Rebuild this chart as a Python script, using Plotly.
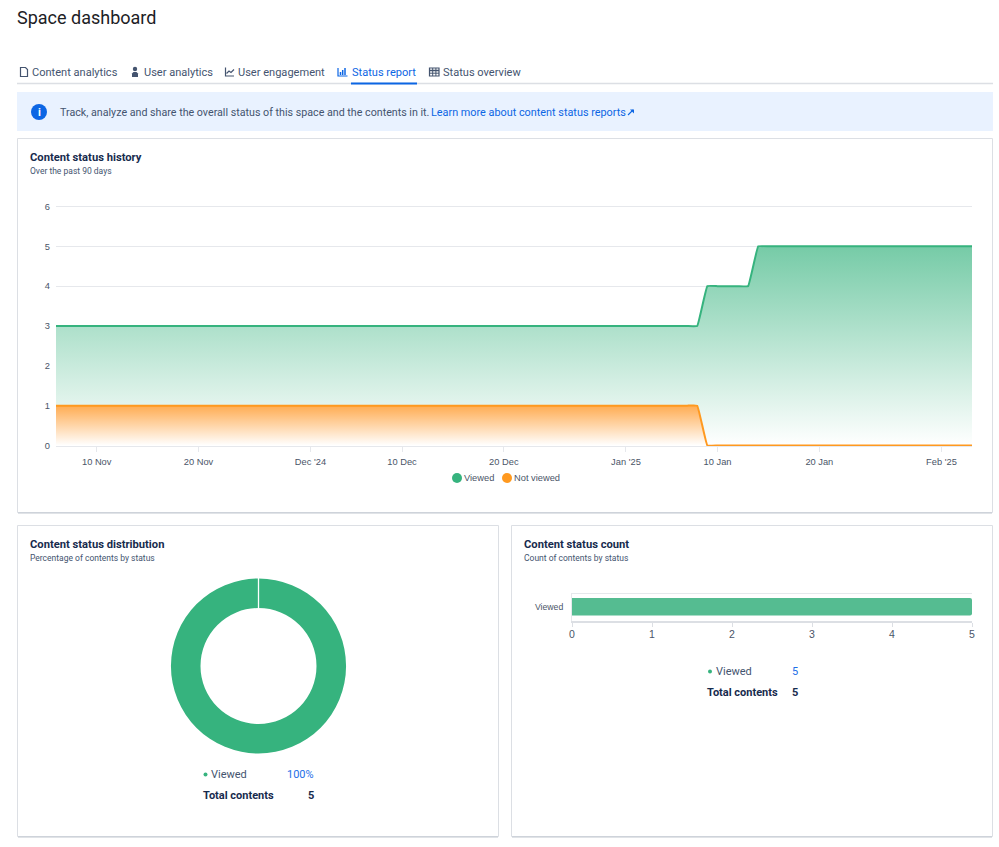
import plotly.graph_objects as go
import pandas as pd

W, H = 999, 847

# ---- data ----
history_dates = pd.date_range("2024-11-06", "2025-02-04", freq="D")
viewed_history = [
    3,3,3,3,3,3,3,3,3,3,3,3,3,3,3,3,3,3,3,3,3,3,3,3,3,3,3,3,3,3,3,3,
    3,3,3,3,3,3,3,3,3,3,3,3,3,3,3,3,3,3,3,3,3,3,3,3,3,3,3,3,3,3,3,3,
    4,4,4,4,4,
    5,5,5,5,5,5,5,5,5,5,5,5,5,5,5,5,5,5,5,5,5,5,
]
not_viewed_history = [
    1,1,1,1,1,1,1,1,1,1,1,1,1,1,1,1,1,1,1,1,1,1,1,1,1,1,1,1,1,1,1,1,
    1,1,1,1,1,1,1,1,1,1,1,1,1,1,1,1,1,1,1,1,1,1,1,1,1,1,1,1,1,1,1,1,
    0,0,0,0,0,
    0,0,0,0,0,0,0,0,0,0,0,0,0,0,0,0,0,0,0,0,0,0,
]
history_tick_dates = ["2024-11-10","2024-11-20","2024-12-01","2024-12-10","2024-12-20",
                      "2025-01-01","2025-01-10","2025-01-20","2025-02-01"]
history_tick_labels = ["10 Nov","20 Nov","Dec '24","10 Dec","20 Dec","Jan '25","10 Jan","20 Jan","Feb '25"]
status_labels = ["Viewed"]
status_counts = [5]

GREEN, ORANGE = "#36B37E", "#FF991F"
UI = "Roboto"
CH = "Liberation Sans"
DARK, MUTED, AXIS = "#172B4D", "#44546F", "#4A5568"
BLUE = "#0C66E4"

def X(p): return p / W
def Y(p): return 1 - p / H

shapes, ann = [], []

def rect(x0, y0, x1, y1, fill="rgba(0,0,0,0)", line=None, lw=1, layer="below"):
    shapes.append(dict(type="rect", xref="paper", yref="paper", x0=X(x0), x1=X(x1), y0=Y(y0), y1=Y(y1),
                       fillcolor=fill, line=dict(color=line or "rgba(0,0,0,0)", width=lw if line else 0), layer=layer))
def hline(x0, x1, y, color, lw=1, layer="below", y2=None):
    shapes.append(dict(type="line", xref="paper", yref="paper", x0=X(x0), x1=X(x1), y0=Y(y), y1=Y(y if y2 is None else y2),
                       line=dict(color=color, width=lw), layer=layer))
def dot(cx, cy, r, color, layer="above"):
    shapes.append(dict(type="circle", xref="paper", yref="paper", x0=X(cx-r), x1=X(cx+r), y0=Y(cy-r), y1=Y(cy+r),
                       fillcolor=color, line=dict(width=0), layer=layer))
def path(pts, color=None, fill=None, lw=1.2, closed=False):
    d = "M" + " L".join(f"{X(a):.5f},{Y(b):.5f}" for a, b in pts) + (" Z" if closed else "")
    shapes.append(dict(type="path", xref="paper", yref="paper", path=d, fillcolor=fill or "rgba(0,0,0,0)",
                       line=dict(color=color or "rgba(0,0,0,0)", width=lw if color else 0), layer="above"))
def text(x, y, s, size=12, color=DARK, anchor="left", bold=False, font=UI):
    ann.append(dict(xref="paper", yref="paper", x=X(x), y=Y(y), text=f"<b>{s}</b>" if bold else s, showarrow=False,
                    xanchor=anchor, yanchor="middle", font=dict(family=font, size=size, color=color), borderpad=0, borderwidth=0))

# page chrome
text(17, 18, "Space dashboard", 18, "#1D2125")
hline(17, 993, 83.5, "#DCDFE4", 1.5)
hline(351, 417, 83.5, BLUE, 2, "above")
for x, s, c in [(32,"Content analytics",MUTED),(144,"User analytics",MUTED),(238,"User engagement",MUTED),
                (351.5,"Status report",BLUE),(443,"Status overview",MUTED)]:
    text(x, 72, s, 11.05, c)
# tab icons
path([(20.5,67.5),(25.5,67.5),(27.5,69.5),(27.5,76.5),(20.5,76.5)], MUTED, closed=True)
dot(135, 69, 2.2, MUTED)
path([(132,77),(132,73.5),(133.5,72),(136.5,72),(138,73.5),(138,77)], fill=MUTED, closed=True)
path([(225.5,67.5),(225.5,76),(234,76)], MUTED)
path([(226.5,73.5),(229,71),(231,72.5),(234,69.5)], MUTED)
path([(338,68),(338,76),(347.5,76)], BLUE)
for bx, by in [(340.5,72),(342.7,70),(345,68)]:
    hline(bx, bx, by, BLUE, 1.5, "above", y2=75)
rect(429.5, 68, 439, 76, fill="rgba(0,0,0,0)", line=MUTED, lw=1.2, layer="above")
hline(429.5, 439, 70.5, MUTED, 1.5, "above")
hline(429.5, 439, 73.2, MUTED, 1, "above")
hline(432.7, 432.7, 68, MUTED, 1, "above", y2=76)
hline(435.9, 435.9, 68, MUTED, 1, "above", y2=76)

# banner
rect(17, 92, 993, 131, fill="#E9F2FF")
dot(39, 112, 8, BLUE)
text(39, 112, "<b>i</b>", 11, "#FFFFFF", "center")
text(60, 112, "Track, analyze and share the overall status of this space and the contents in it.", 10.7, MUTED)
text(431, 112, "Learn more about content status reports", 10.85, BLUE)
path([(628,115),(633,110)], BLUE, lw=1.1)
path([(630,109.5),(634,109.5),(634,113.5)], fill=BLUE, closed=True)

# cards
rect(17.5, 138.5, 992.5, 512.5, "#FFFFFF", "#DCDFE4")
rect(17.5, 525.5, 498.5, 836.5, "#FFFFFF", "#DCDFE4")
rect(511.5, 525.5, 992.5, 836.5, "#FFFFFF", "#DCDFE4")
hline(18, 992, 513, "#C1C7D0", 1)
hline(18, 498, 837, "#C1C7D0", 1)
hline(512, 992, 837, "#C1C7D0", 1)

text(30, 157, "Content status history", 11.2, DARK, bold=True)
text(30, 171, "Over the past 90 days", 8.5, MUTED)
text(30, 544, "Content status distribution", 11.2, DARK, bold=True)
text(30, 558, "Percentage of contents by status", 8.5, MUTED)
text(524, 544, "Content status count", 11.2, DARK, bold=True)
text(524, 558, "Count of contents by status", 8.5, MUTED)

# top gridline of the history chart
hline(56, 972, 206.5, "#E6E8EC", 1)

# history legend
dot(457, 478, 5, GREEN)
text(464, 478, "Viewed", 9.3, AXIS, font=CH)
dot(507, 478, 5, ORANGE)
text(514, 478, "Not viewed", 9.3, AXIS, font=CH)

# distribution legend
dot(205.5, 774.5, 2, GREEN)
text(211, 774, "Viewed", 11, MUTED)
text(314, 774, "100%", 11, "#1D6FE8", "right")
text(203, 795, "Total contents", 11, DARK, bold=True)
text(314, 795, "5", 11, DARK, "right", bold=True)

# count legend
dot(710, 671.5, 2, GREEN)
text(715.5, 671, "Viewed", 11, MUTED)
text(797.5, 671, "5", 11, "#1D6FE8", "right")
text(707, 692.5, "Total contents", 11, DARK, bold=True)
text(797.5, 692.5, "5", 11, DARK, "right", bold=True)

# count chart top rule
hline(572, 972, 593.5, "#E6E8EC", 1, "above")

# donut seam
hline(258.5, 258.5, 578, "#FFFFFF", 1.3, "above", y2=608)

fig = go.Figure()
fig.add_trace(go.Scatter(x=history_dates, y=viewed_history, name="Viewed", mode="lines",
    line=dict(color=GREEN, width=2, shape="spline", smoothing=0.25), fill="tozeroy",
    fillgradient=dict(type="vertical", colorscale=[[0,"rgb(255,255,255)"],[1,"rgb(118,203,167)"]], start=0, stop=5),
    xaxis="x", yaxis="y", showlegend=False))
fig.add_trace(go.Scatter(x=history_dates, y=not_viewed_history, name="Not viewed", mode="lines",
    line=dict(color=ORANGE, width=2, shape="spline", smoothing=0.25), fill="tozeroy",
    fillgradient=dict(type="vertical", colorscale=[[0,"rgb(255,255,255)"],[1,"rgb(255,172,82)"]], start=0, stop=1),
    xaxis="x", yaxis="y", showlegend=False))
fig.add_trace(go.Pie(labels=status_labels, values=status_counts, hole=58/87.5, sort=False, textinfo="none",
    marker=dict(colors=[GREEN], line=dict(width=0)), showlegend=False,
    domain=dict(x=[X(258.5-87.5), X(258.5+87.5)], y=[Y(753.5), Y(578.5)])))
fig.add_trace(go.Bar(x=status_counts, y=status_labels, orientation="h", xaxis="x2", yaxis="y2",
    marker=dict(color="#55BC91", cornerradius=2, line=dict(color="#55BC91", width=0)), width=0.64, showlegend=False))

fig.update_layout(
    width=W, height=H, autosize=False, margin=dict(l=0, r=0, t=0, b=0, pad=0, autoexpand=False),
    paper_bgcolor="#FFFFFF", plot_bgcolor="rgba(0,0,0,0)", shapes=shapes, annotations=ann,
    hovermode=False,
    xaxis=dict(domain=[X(56), X(972)], range=["2024-11-06", "2025-02-04"], type="date",
               tickvals=history_tick_dates, ticktext=history_tick_labels, ticks="outside", ticklen=5, tickcolor="#E6E8EC",
               showgrid=False, showline=True, linecolor="#E6E8EC", zeroline=False, ticklabelstandoff=2,
               tickfont=dict(family=CH, size=9.3, color=AXIS), anchor="y"),
    yaxis=dict(domain=[Y(446), Y(205.5)], range=[-0.0125, 6.025], tickvals=[0,1,2,3,4,5,6], gridcolor="#E6E8EC", zeroline=False,
               showline=False, ticks="", ticklabelstandoff=5, tickfont=dict(family=CH, size=9.3, color=AXIS), anchor="x"),
    xaxis2=dict(domain=[X(572), X(972)], range=[0, 5], tickvals=[0,1,2,3,4,5], ticks="outside", ticklen=4, tickcolor="#DCDFE4",
                showgrid=False, showline=True, linecolor="#DCDFE4", linewidth=2, zeroline=False, ticklabelstandoff=-1,
                tickfont=dict(family=CH, size=10.5, color=AXIS), anchor="y2"),
    yaxis2=dict(domain=[Y(620.5), Y(593)], type="category", showgrid=False, showline=True, linecolor="#E6E8EC", ticks="",
                ticklabelstandoff=6, tickfont=dict(family=CH, size=8.7, color=AXIS), anchor="x2", zeroline=False),
)
fig.write_html("out.html", config=dict(displayModeBar=False),
               post_script="document.body.style.margin='0';document.documentElement.style.overflow='hidden';")
